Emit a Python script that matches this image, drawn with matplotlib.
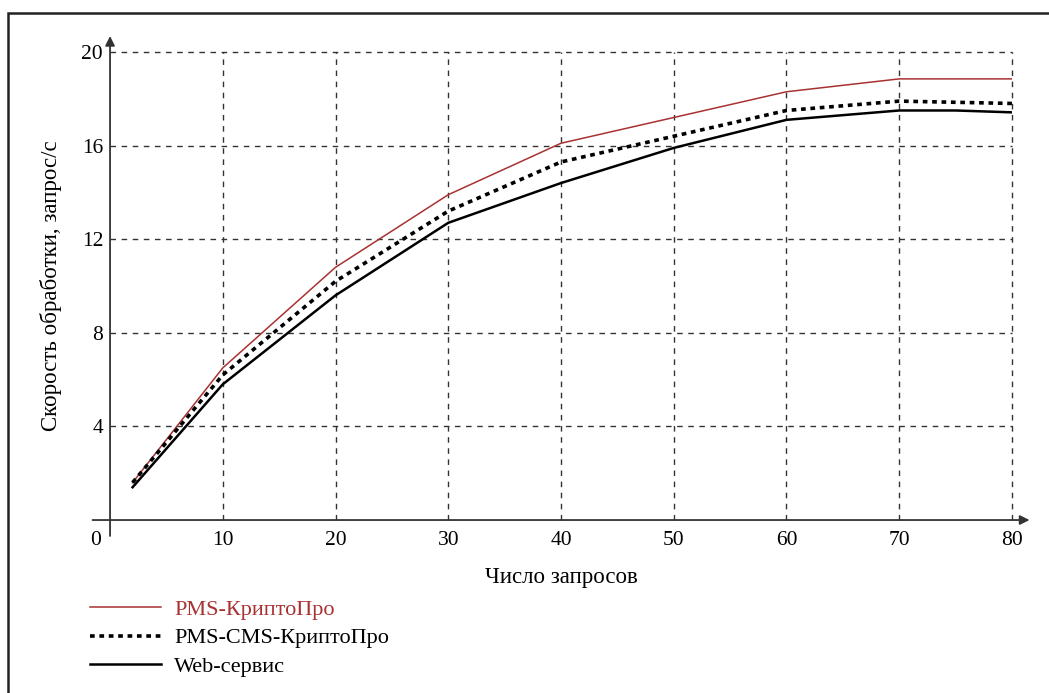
import matplotlib.pyplot as plt
from matplotlib.lines import Line2D
from matplotlib.patches import Rectangle

plt.rcParams['font.family'] = ['Liberation Serif', 'DejaVu Serif']

# data
x_pts = [2, 10, 20, 30, 40, 50, 60, 70, 80]
pms_crypto = [1.6, 6.5, 10.8, 13.9, 16.1, 17.2, 18.3, 18.85, 18.85]
pms_cms_crypto = [1.6, 6.2, 10.2, 13.2, 15.3, 16.4, 17.5, 17.9, 17.8]
x_web = [2, 10, 20, 30, 40, 50, 60, 70, 75, 80]
web_service = [1.4, 5.8, 9.6, 12.7, 14.4, 15.9, 17.1, 17.5, 17.5, 17.42]

labels = ['PMS-КриптоПро', 'PMS-CMS-КриптоПро', 'Web-сервис']
xticks = [10, 20, 30, 40, 50, 60, 70, 80]
yticks = [4, 8, 12, 16, 20]

red = '#a83232'

fig = plt.figure(figsize=(10.49, 6.93), dpi=100)
ax = fig.add_axes([0.1049, 0.2496, 0.8598, 0.6754])

ax.plot(x_pts, pms_crypto, color=red, lw=1.1)
ax.plot(x_pts, pms_cms_crypto, color='black', lw=2.6, linestyle=(0, (1.3, 1.3)))
ax.plot(x_web, web_service, color='black', lw=1.8)

ax.set_xlim(0, 80)
ax.set_ylim(0, 20)
for s in ax.spines.values():
    s.set_visible(False)

# grid
for xv in xticks:
    ax.plot([xv, xv], [0, 20], color='#333333', lw=1, linestyle=(0, (4, 4)),
            zorder=0, clip_on=False)
for yv in yticks:
    ax.plot([0, 80], [yv, yv], color='#333333', lw=1, linestyle=(0, (4, 4)),
            zorder=0, clip_on=False)

# axes with arrows
ax.annotate('', xy=(81.8, 0), xytext=(-1.8, 0), annotation_clip=False,
            arrowprops=dict(arrowstyle='-|>', color='#333333', lw=1.3, mutation_scale=14))
ax.annotate('', xy=(0, 20.8), xytext=(0, -0.8), annotation_clip=False,
            arrowprops=dict(arrowstyle='-|>', color='#333333', lw=1.3, mutation_scale=14))

ax.set_xticks(xticks)
ax.set_yticks(yticks)
ax.tick_params(axis='x', length=0, labelsize=15.5, pad=8)
ax.tick_params(axis='y', length=0, labelsize=15.5, pad=5)
ax.text(-0.8, -0.45, '0', fontsize=15.5, ha='right', va='top')

ax.set_xlabel('Число запросов', fontsize=16.5, labelpad=12)
ax.set_ylabel('Скорость обработки, запрос/с', fontsize=16.5, labelpad=14)

# legend drawn below the chart
handles = [Line2D([], [], color=red, lw=1.1),
           Line2D([], [], color='black', lw=2.6, linestyle=(0, (1.3, 1.3))),
           Line2D([], [], color='black', lw=1.8)]
leg = fig.legend(handles, labels, loc='upper left', bbox_to_anchor=(0.075, 0.151),
                 frameon=False, fontsize=16, handlelength=3.2, handletextpad=0.6,
                 labelspacing=0.35, borderpad=0)
leg.get_texts()[0].set_color(red)

# outer frame
fig.patches.append(Rectangle((0.0076, -0.05), 1.1, 1.031, transform=fig.transFigure,
                             fill=False, edgecolor='#222222', lw=1.8))

fig.savefig('out.png', dpi=100)
